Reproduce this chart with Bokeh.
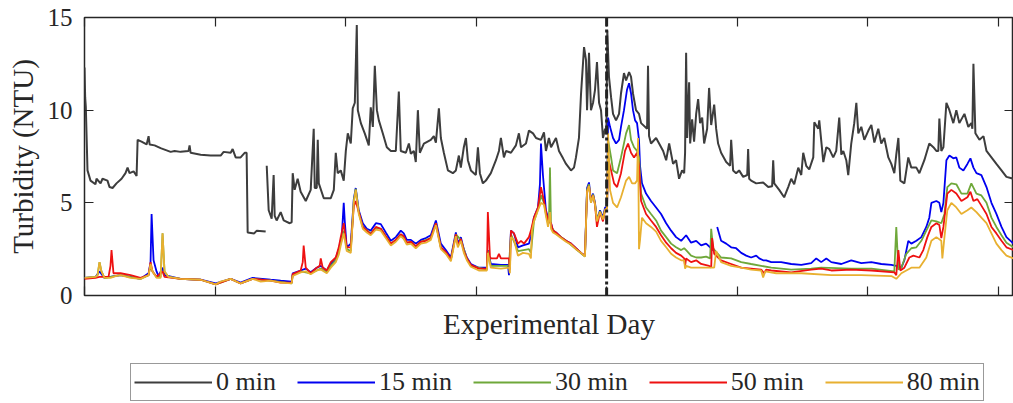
from bokeh.plotting import figure
from bokeh.layouts import column
from bokeh.models import Span, Legend, LegendItem, LinearAxis, FixedTicker, Range1d
from bokeh.embed import file_html
from bokeh.resources import INLINE

nan = float("nan")

# (experimental day, turbidity NTU) for each sampling delay
turb_0min = [
    (0.000, 12.3), (0.005, 10.7), (0.010, 10.2), (0.023, 6.75), (0.046, 6.2), (0.084, 6.0), (0.092, 6.3),
    (0.123, 6.05), (0.138, 6.3), (0.176, 6.2), (0.192, 5.85), (0.215, 5.8), (0.245, 6.05), (0.284, 6.3),
    (0.314, 6.6), (0.330, 6.9), (0.345, 6.6), (0.376, 6.7), (0.399, 6.45), (0.407, 8.4), (0.437, 8.3),
    (0.476, 8.15), (0.491, 8.6), (0.499, 8.15), (0.537, 8.1), (0.583, 7.95), (0.660, 7.75), (0.690, 7.8),
    (0.736, 7.75), (0.797, 7.8), (0.805, 8.1), (0.813, 7.7), (0.890, 7.6), (0.966, 7.55), (1.043, 7.55),
    (1.066, 7.75), (1.120, 7.7), (1.135, 7.9), (1.158, 7.45), (1.196, 7.45), (1.227, 7.7), (1.242, 7.7),
    (1.250, 3.4), (1.300, 3.35), (1.320, 3.5), (1.388, 3.45), (nan, nan),
    (1.396, 7.0), (1.411, 4.6), (1.434, 4.15), (1.449, 6.5), (1.457, 4.3), (1.472, 4.05), (1.503, 4.5),
    (1.526, 4.05), (1.572, 3.9), (1.587, 3.95), (1.595, 6.6), (1.610, 5.7), (1.633, 6.3), (1.656, 5.6),
    (1.695, 5.1), (1.733, 5.7), (1.756, 9.0), (1.764, 5.8), (1.779, 5.8), (1.787, 8.4), (1.795, 6.05),
    (1.833, 5.25), (1.887, 5.25), (1.910, 5.7), (1.925, 7.7), (1.940, 6.6), (1.963, 6.75), (1.986, 6.2),
    (2.002, 7.8), (2.017, 8.75), (2.040, 8.2), (2.055, 10.1), (2.071, 10.4), (2.086, 14.6), (2.094, 10.0),
    (2.117, 9.3), (2.147, 8.75), (2.178, 8.1), (2.193, 10.15), (2.209, 9.1), (2.224, 12.4), (2.240, 10.0),
    (2.255, 9.45), (2.285, 8.75), (2.316, 8.0), (2.347, 7.8), (2.385, 7.8), (2.408, 11.0), (2.423, 7.8),
    (2.462, 7.7), (2.485, 8.2), (2.500, 7.65), (2.523, 7.8), (2.538, 7.2), (2.554, 10.0), (2.569, 7.7),
    (2.600, 8.2), (2.653, 8.4), (2.676, 8.6), (2.692, 8.25), (2.715, 10.1), (2.730, 8.5), (2.753, 7.7),
    (2.784, 6.75), (2.822, 6.6), (2.845, 6.75), (2.868, 7.55), (2.883, 6.9), (2.906, 8.0), (2.922, 8.5),
    (2.937, 7.3), (2.960, 6.75), (2.998, 6.5), (3.014, 8.0), (3.029, 6.6), (3.052, 6.05), (3.075, 6.2),
    (3.113, 6.6), (3.152, 7.3), (3.175, 7.8), (3.190, 8.5), (3.213, 7.45), (3.229, 7.8), (3.267, 7.7),
    (3.305, 8.1), (3.328, 8.75), (3.344, 8.0), (3.382, 8.2), (3.405, 8.9), (3.436, 8.75), (3.459, 8.5),
    (3.497, 8.4), (3.520, 8.8), (3.535, 7.8), (3.558, 8.5), (3.574, 8.0), (3.612, 8.5), (3.635, 7.8),
    (3.666, 7.4), (3.689, 7.1), (3.727, 6.75), (3.750, 6.9), (3.765, 7.45), (3.788, 8.5), (3.804, 10.9),
    (3.827, 13.4), (3.842, 12.7), (3.850, 10.0), (3.865, 13.1), (3.880, 10.0), (3.896, 10.4), (3.911, 11.1),
    (3.926, 12.6), (3.942, 10.4), (3.957, 10.0), (3.972, 8.5), (3.988, 9.0), (3.998, 8.7), (4.005, 14.3),
    (4.018, 11.8), (4.034, 10.7), (4.049, 9.8), (4.072, 9.45), (4.095, 9.8), (4.110, 10.9), (4.133, 12.0),
    (4.149, 11.6), (4.172, 12.05), (4.187, 11.8), (4.202, 10.9), (4.225, 10.0), (4.248, 9.8), (4.264, 9.3),
    (4.310, 9.0), (4.317, 12.4), (4.325, 8.6), (4.340, 8.2), (4.379, 8.5), (4.402, 8.2), (4.433, 7.8),
    (4.456, 7.3), (4.479, 8.2), (4.509, 7.1), (4.532, 7.3), (4.555, 6.3), (4.578, 6.75), (4.594, 6.6),
    (4.601, 7.7), (4.609, 13.1), (4.617, 8.5), (4.632, 11.5), (4.640, 8.2), (4.655, 9.5), (4.670, 8.3),
    (4.686, 9.8), (4.701, 10.6), (4.716, 9.3), (4.732, 9.6), (4.747, 8.2), (4.770, 9.0), (4.785, 11.2),
    (4.801, 9.2), (4.824, 10.3), (4.839, 9.0), (4.854, 8.2), (4.877, 7.7), (4.916, 7.2), (4.946, 7.0),
    (4.954, 8.4), (4.969, 6.75), (4.992, 6.6), (5.015, 6.75), (5.046, 6.4), (5.077, 6.5), (5.084, 7.9),
    (5.092, 6.3), (5.107, 6.2), (5.146, 6.05), (5.199, 6.1), (5.238, 5.85), (5.268, 5.9), (5.276, 7.3),
    (5.284, 6.05), (5.322, 5.7), (5.360, 5.3), (5.391, 5.85), (5.414, 6.3), (5.437, 6.0), (5.468, 6.9),
    (5.491, 6.5), (5.506, 7.7), (5.529, 7.0), (5.552, 6.8), (5.583, 7.45), (5.591, 9.35), (5.621, 9.0),
    (5.629, 9.45), (5.660, 7.2), (5.683, 8.0), (5.706, 7.9), (5.736, 7.45), (5.759, 7.8), (5.782, 9.6),
    (5.798, 7.6), (5.813, 7.8), (5.836, 7.3), (5.851, 6.5), (5.874, 8.2), (5.897, 9.3), (5.913, 10.4),
    (5.928, 8.75), (5.951, 9.1), (5.974, 8.4), (6.005, 8.9), (6.028, 9.2), (6.051, 8.25), (6.081, 9.0),
    (6.104, 8.2), (6.127, 8.5), (6.158, 7.45), (6.181, 7.1), (6.204, 6.6), (6.219, 7.6), (6.235, 8.5),
    (6.250, 6.2), (6.281, 6.05), (6.311, 7.45), (6.334, 6.9), (6.373, 6.9), (6.396, 6.6), (6.434, 7.3),
    (6.472, 8.2), (6.503, 8.0), (6.526, 7.8), (6.541, 7.8), (6.549, 9.55), (6.564, 7.8), (6.580, 8.0),
    (6.603, 10.4), (6.626, 10.0), (6.656, 9.3), (6.679, 10.0), (6.702, 9.3), (6.741, 9.8), (6.771, 9.1),
    (6.794, 9.3), (6.802, 9.0), (6.810, 12.5), (6.825, 8.75), (6.856, 8.4), (6.887, 8.6), (6.910, 7.8),
    (6.948, 7.45), (6.986, 7.1), (7.025, 6.75), (7.063, 6.4), (7.117, 6.3),
]

turb_15min = [
    (0.000, 0.95), (0.084, 1.0), (0.115, 1.3), (0.153, 0.95), (0.276, 1.1), (0.429, 0.9), (0.491, 1.2),
    (0.506, 1.8), (0.514, 4.4), (0.529, 1.9), (0.552, 1.3), (0.567, 1.05), (0.598, 1.5), (0.613, 1.1),
    (0.736, 0.9), (0.890, 0.85), (1.005, 0.65), (1.120, 0.9), (1.196, 0.7), (1.288, 0.95), (1.426, 0.85),
    (1.503, 0.8), (1.587, 0.75), (1.595, 1.2), (1.656, 1.35), (1.695, 1.45), (1.733, 1.25), (1.779, 1.5),
    (1.810, 1.6), (1.856, 1.35), (1.887, 1.7), (1.925, 2.0), (1.948, 2.5), (1.971, 3.2), (1.986, 5.0),
    (1.994, 4.0), (2.009, 2.6), (2.040, 2.8), (2.063, 5.2), (2.078, 5.8), (2.101, 4.6), (2.132, 3.9),
    (2.163, 3.6), (2.193, 3.5), (2.232, 3.9), (2.270, 3.85), (2.308, 3.4), (2.347, 2.95), (2.385, 3.15),
    (2.423, 3.5), (2.446, 3.35), (2.469, 3.0), (2.500, 3.0), (2.538, 2.8), (2.577, 3.0), (2.615, 3.1),
    (2.653, 3.25), (2.692, 4.05), (2.730, 2.8), (2.768, 2.45), (2.807, 2.05), (2.845, 3.4), (2.860, 2.8),
    (2.883, 3.15), (2.906, 2.5), (2.929, 2.05), (2.960, 1.7), (3.021, 1.5), (3.083, 1.5), (3.090, 2.45),
    (3.113, 1.7), (3.190, 1.65), (3.244, 1.65), (3.252, 1.1), (3.267, 3.5), (3.290, 3.35), (3.321, 2.6),
    (3.359, 2.7), (3.405, 2.8), (3.420, 3.2), (3.443, 4.2), (3.474, 4.75), (3.489, 6.0), (3.497, 8.2),
    (3.512, 6.5), (3.535, 4.6), (3.551, 4.2), (3.574, 3.9), (3.589, 3.5), (3.612, 3.4), (3.650, 3.15),
    (3.689, 2.95), (3.727, 2.8), (3.765, 2.55), (3.804, 2.3), (3.834, 2.15), (3.850, 5.8), (3.865, 6.1),
    (3.880, 5.1), (3.896, 5.5), (3.911, 5.0), (3.926, 4.05), (3.949, 4.6), (3.972, 4.2), (3.988, 4.75),
    (4.003, 4.8), (4.011, 9.6), (4.026, 9.1), (4.049, 8.5), (4.072, 8.2), (4.095, 8.4), (4.110, 9.1),
    (4.133, 10.0), (4.156, 11.1), (4.172, 11.45), (4.187, 10.9), (4.202, 10.0), (4.218, 9.45), (4.233, 9.3),
    (4.248, 8.4), (4.256, 7.0), (4.271, 6.05), (4.302, 5.5), (4.340, 5.1), (4.379, 4.75), (4.417, 4.4),
    (4.456, 3.9), (4.494, 3.5), (4.532, 3.15), (4.571, 2.95), (4.609, 3.25), (4.647, 2.85), (4.686, 2.95),
    (4.724, 2.7), (4.762, 2.8), (4.801, 2.55), (4.824, 2.4), (nan, nan),
    (4.847, 3.7), (4.877, 2.95), (4.916, 2.8), (4.954, 2.6), (4.992, 2.55), (5.031, 2.3), (5.069, 2.15),
    (5.107, 2.05), (5.146, 2.15), (5.169, 2.0), (5.199, 1.9), (5.222, 1.9), (5.261, 1.8), (5.337, 1.8),
    (5.414, 1.7), (5.491, 1.65), (5.567, 1.75), (5.606, 2.0), (5.644, 1.8), (5.683, 2.0), (5.721, 1.8),
    (5.798, 1.7), (5.874, 1.9), (5.951, 1.75), (6.028, 1.8), (6.104, 1.7), (6.181, 1.65), (6.219, 1.6),
    (6.258, 1.5), (6.281, 1.9), (6.311, 2.95), (6.334, 2.8), (6.373, 2.95), (6.411, 3.15), (6.449, 3.7),
    (6.472, 4.2), (6.488, 5.0), (6.526, 5.1), (6.549, 5.0), (6.564, 4.5), (6.580, 5.0), (6.603, 7.3),
    (6.626, 7.55), (6.656, 7.4), (6.679, 7.45), (6.702, 6.9), (6.733, 6.75), (6.764, 7.1), (6.787, 7.4),
    (6.810, 6.9), (6.833, 6.6), (6.871, 6.5), (6.910, 5.85), (6.948, 5.0), (6.986, 4.4), (7.025, 3.7),
    (7.063, 3.15), (7.117, 2.8),
]

turb_30min = [
    (0.000, 0.95), (0.084, 1.0), (0.100, 1.1), (0.115, 1.8), (0.130, 1.3), (0.153, 0.95), (0.276, 1.1),
    (0.429, 0.9), (0.491, 1.1), (0.506, 1.6), (0.521, 1.3), (0.552, 1.0), (0.583, 1.0), (0.598, 3.35),
    (0.613, 1.3), (0.644, 1.0), (0.736, 0.9), (0.890, 0.85), (1.005, 0.6), (1.120, 0.9), (1.196, 0.65),
    (1.288, 0.9), (1.426, 0.8), (1.587, 0.65), (1.595, 1.1), (1.656, 1.3), (1.733, 1.2), (1.810, 1.45),
    (1.856, 1.25), (1.887, 1.6), (1.925, 1.9), (1.963, 2.8), (1.986, 3.5), (2.009, 2.5), (2.040, 2.4),
    (2.063, 5.1), (2.078, 5.75), (2.101, 4.5), (2.132, 3.7), (2.193, 3.35), (2.232, 3.65), (2.270, 3.6),
    (2.308, 3.2), (2.347, 2.8), (2.385, 3.0), (2.423, 3.3), (2.469, 2.85), (2.500, 2.9), (2.538, 2.65),
    (2.577, 2.9), (2.653, 3.1), (2.692, 3.9), (2.730, 2.6), (2.807, 1.95), (2.845, 3.3), (2.883, 3.0),
    (2.929, 2.0), (2.960, 1.6), (3.083, 1.4), (3.090, 2.4), (3.113, 1.6), (3.252, 1.6), (3.267, 3.3),
    (3.321, 2.4), (3.405, 2.5), (3.420, 2.3), (3.443, 4.0), (3.474, 4.65), (3.497, 5.4), (3.520, 5.0),
    (3.535, 4.4), (3.551, 3.9), (3.558, 3.9), (3.566, 6.9), (3.574, 3.7), (3.612, 3.35), (3.689, 2.95),
    (3.765, 2.5), (3.834, 2.1), (3.850, 5.7), (3.865, 6.0), (3.880, 5.0), (3.896, 5.45), (3.911, 4.95),
    (3.926, 4.0), (3.949, 4.55), (3.972, 4.1), (3.988, 4.65), (4.003, 4.7), (4.011, 8.4), (4.034, 7.45),
    (4.049, 6.75), (4.080, 6.6), (4.110, 7.45), (4.149, 8.75), (4.172, 9.2), (4.187, 8.4), (4.210, 8.0),
    (4.233, 7.8), (4.248, 7.45), (4.264, 5.5), (4.302, 4.75), (4.340, 4.4), (4.379, 4.05), (4.417, 3.5),
    (4.456, 3.15), (4.494, 2.8), (4.532, 2.6), (4.571, 2.45), (4.594, 2.55), (4.609, 2.45), (4.647, 2.15),
    (4.686, 2.05), (4.724, 2.05), (4.762, 2.1), (4.793, 2.0), (4.801, 3.6), (4.816, 2.55), (4.839, 2.35),
    (4.877, 2.05), (4.954, 2.0), (5.031, 1.8), (5.107, 1.7), (5.184, 1.6), (5.261, 1.5), (5.414, 1.4),
    (5.567, 1.45), (5.644, 1.5), (5.874, 1.45), (6.028, 1.45), (6.204, 1.3), (6.219, 3.7), (6.235, 1.4),
    (6.258, 1.5), (6.296, 2.25), (6.334, 2.55), (6.373, 2.6), (6.411, 2.95), (6.449, 3.5), (6.488, 4.05),
    (6.526, 4.0), (6.564, 3.9), (6.588, 4.4), (6.610, 5.85), (6.641, 6.05), (6.679, 6.0), (6.718, 5.5),
    (6.764, 5.5), (6.794, 6.05), (6.833, 5.5), (6.871, 5.4), (6.910, 5.0), (6.948, 4.2), (6.986, 3.7),
    (7.025, 3.25), (7.063, 2.85), (7.117, 2.6),
]

turb_50min = [
    (0.000, 0.9), (0.084, 0.95), (0.115, 1.0), (0.184, 1.0), (0.199, 1.6), (0.207, 2.45), (0.222, 1.2),
    (0.276, 1.2), (0.353, 1.1), (0.429, 0.95), (0.491, 1.1), (0.506, 1.8), (0.521, 1.3), (0.552, 1.0),
    (0.598, 1.3), (0.613, 1.0), (0.736, 0.9), (0.890, 0.85), (1.005, 0.6), (1.120, 0.9), (1.196, 0.65),
    (1.288, 0.9), (1.426, 0.8), (1.503, 0.7), (1.587, 0.7), (1.595, 1.15), (1.656, 1.35), (1.672, 1.8),
    (1.679, 2.7), (1.695, 1.5), (1.733, 1.2), (1.779, 1.5), (1.802, 1.6), (1.810, 2.0), (1.825, 1.5),
    (1.856, 1.35), (1.887, 1.8), (1.925, 2.05), (1.948, 2.6), (1.963, 3.15), (1.986, 3.9), (2.009, 2.6),
    (2.040, 2.6), (2.063, 4.8), (2.078, 5.1), (2.101, 4.5), (2.132, 3.7), (2.163, 3.5), (2.193, 3.3),
    (2.232, 3.7), (2.270, 3.6), (2.308, 3.2), (2.347, 2.8), (2.385, 3.0), (2.423, 3.3), (2.446, 3.2),
    (2.469, 2.85), (2.500, 2.9), (2.538, 2.65), (2.577, 2.9), (2.615, 2.95), (2.653, 3.1), (2.692, 3.9),
    (2.730, 2.6), (2.768, 2.35), (2.807, 1.95), (2.845, 3.3), (2.860, 2.7), (2.883, 3.05), (2.906, 2.4),
    (2.929, 2.0), (2.960, 1.65), (3.021, 1.45), (3.083, 1.45), (3.090, 4.5), (3.106, 2.1), (3.113, 2.0),
    (3.160, 2.0), (3.175, 2.25), (3.190, 2.0), (3.252, 2.0), (3.259, 1.4), (3.267, 3.5), (3.290, 3.35),
    (3.321, 2.8), (3.344, 2.95), (3.367, 2.8), (3.405, 3.15), (3.420, 3.5), (3.443, 4.2), (3.474, 4.75),
    (3.497, 5.85), (3.520, 5.1), (3.535, 4.5), (3.551, 4.1), (3.574, 3.9), (3.589, 3.5), (3.612, 3.4),
    (3.650, 3.15), (3.689, 2.95), (3.727, 2.8), (3.765, 2.55), (3.804, 2.3), (3.834, 2.15), (3.850, 5.6),
    (3.865, 5.9), (3.880, 5.1), (3.896, 5.4), (3.911, 4.9), (3.926, 3.7), (3.949, 4.5), (3.972, 4.0),
    (3.988, 4.6), (4.003, 4.7), (4.011, 7.45), (4.034, 6.75), (4.057, 6.05), (4.080, 5.85), (4.110, 6.6),
    (4.141, 7.8), (4.164, 8.2), (4.187, 7.7), (4.210, 7.45), (4.233, 7.7), (4.248, 7.0), (4.264, 5.1),
    (4.302, 4.4), (4.340, 4.05), (4.379, 3.7), (4.417, 3.25), (4.456, 2.85), (4.494, 2.55), (4.532, 2.3),
    (4.571, 2.15), (4.594, 2.0), (4.601, 1.6), (4.609, 2.0), (4.647, 1.8), (4.686, 1.9), (4.724, 1.7),
    (4.785, 1.6), (4.801, 1.5), (4.808, 3.1), (4.824, 2.25), (4.877, 1.9), (4.954, 1.7), (5.031, 1.5),
    (5.107, 1.45), (5.184, 1.4), (5.207, 1.2), (5.222, 1.4), (5.261, 1.35), (5.414, 1.25), (5.567, 1.4),
    (5.644, 1.45), (5.721, 1.35), (5.874, 1.4), (6.028, 1.35), (6.204, 1.25), (6.219, 1.1), (6.235, 2.45),
    (6.250, 1.35), (6.281, 1.5), (6.319, 2.05), (6.350, 2.15), (6.396, 2.05), (6.426, 2.45), (6.457, 3.15),
    (6.488, 3.7), (6.526, 3.9), (6.549, 3.8), (6.564, 3.1), (6.580, 3.7), (6.610, 5.5), (6.641, 5.7),
    (6.679, 5.5), (6.718, 5.1), (6.764, 5.3), (6.787, 5.6), (6.810, 5.1), (6.840, 5.2), (6.871, 4.85),
    (6.910, 4.4), (6.948, 3.7), (6.986, 3.35), (7.025, 2.95), (7.063, 2.6), (7.117, 2.45),
]

turb_80min = [
    (0.000, 0.95), (0.084, 1.0), (0.100, 1.1), (0.115, 1.8), (0.130, 1.3), (0.153, 0.95), (0.199, 0.95),
    (0.238, 1.05), (0.276, 1.1), (0.353, 0.95), (0.429, 0.9), (0.491, 1.1), (0.506, 1.7), (0.521, 1.3),
    (0.552, 0.95), (0.583, 0.95), (0.598, 3.35), (0.613, 1.3), (0.644, 1.0), (0.736, 0.9), (0.890, 0.85),
    (1.005, 0.6), (1.043, 0.75), (1.120, 0.9), (1.196, 0.65), (1.288, 0.9), (1.350, 0.75), (1.426, 0.8),
    (1.503, 0.7), (1.587, 0.65), (1.595, 1.05), (1.656, 1.25), (1.695, 1.3), (1.733, 1.15), (1.779, 1.35),
    (1.810, 1.4), (1.856, 1.2), (1.887, 1.5), (1.925, 1.8), (1.948, 2.2), (1.963, 2.7), (1.986, 3.35),
    (2.009, 2.4), (2.040, 2.3), (2.063, 5.0), (2.078, 5.7), (2.101, 4.4), (2.132, 3.6), (2.163, 3.4),
    (2.193, 3.25), (2.232, 3.55), (2.270, 3.5), (2.308, 3.1), (2.347, 2.7), (2.385, 2.9), (2.423, 3.2),
    (2.446, 3.05), (2.469, 2.75), (2.500, 2.8), (2.538, 2.55), (2.577, 2.8), (2.615, 2.85), (2.653, 3.0),
    (2.692, 3.8), (2.730, 2.5), (2.768, 2.25), (2.807, 1.85), (2.845, 3.2), (2.860, 2.6), (2.883, 2.95),
    (2.906, 2.3), (2.929, 1.9), (2.960, 1.55), (3.021, 1.35), (3.083, 1.35), (3.090, 2.3), (3.113, 1.5),
    (3.190, 1.45), (3.252, 1.5), (3.259, 1.2), (3.267, 3.15), (3.290, 3.0), (3.321, 2.15), (3.359, 2.3),
    (3.405, 2.25), (3.420, 2.0), (3.428, 3.5), (3.443, 4.0), (3.474, 4.6), (3.497, 5.0), (3.520, 4.9),
    (3.535, 4.3), (3.551, 3.7), (3.566, 4.5), (3.574, 3.6), (3.589, 3.4), (3.612, 3.3), (3.650, 3.1),
    (3.689, 2.9), (3.727, 2.75), (3.765, 2.5), (3.804, 2.3), (3.834, 2.1), (3.850, 5.6), (3.865, 5.9),
    (3.880, 5.0), (3.896, 5.4), (3.911, 4.9), (3.926, 4.0), (3.949, 4.5), (3.972, 4.1), (3.988, 4.6),
    (4.003, 4.7), (4.011, 8.75), (4.026, 5.7), (4.049, 5.0), (4.080, 4.75), (4.110, 5.3), (4.149, 6.2),
    (4.172, 6.4), (4.195, 6.05), (4.218, 6.05), (4.233, 6.2), (4.241, 8.5), (4.248, 2.5), (4.256, 3.0),
    (4.271, 4.2), (4.302, 3.9), (4.340, 3.7), (4.379, 3.45), (4.417, 2.95), (4.456, 2.6), (4.494, 2.25),
    (4.532, 2.05), (4.571, 1.9), (4.594, 1.9), (4.601, 1.45), (4.609, 1.6), (4.647, 1.5), (4.724, 1.5),
    (4.801, 1.5), (4.824, 1.5), (4.839, 2.4), (4.877, 1.8), (4.954, 1.6), (5.031, 1.5), (5.107, 1.4),
    (5.184, 1.35), (5.199, 0.97), (5.215, 1.3), (5.299, 1.2), (5.491, 1.2), (5.721, 1.1), (5.951, 1.1),
    (6.181, 1.05), (6.219, 0.9), (6.258, 1.2), (6.296, 1.35), (6.334, 1.5), (6.396, 1.5), (6.449, 2.05),
    (6.488, 2.95), (6.526, 3.15), (6.564, 2.95), (6.572, 2.0), (6.588, 3.15), (6.610, 4.6), (6.641, 5.0),
    (6.679, 4.75), (6.718, 4.4), (6.764, 4.6), (6.794, 4.75), (6.833, 4.5), (6.871, 4.2), (6.910, 3.9),
    (6.948, 3.35), (6.986, 2.8), (7.025, 2.45), (7.063, 2.15), (7.117, 2.0),
]

series_labels = ["0 min", "15 min", "30 min", "50 min", "80 min"]
series_colors = ["#3d3d3d", "#0000f0", "#6fa83a", "#ee1111", "#e8b030"]
day_ticks = [0, 1, 2, 3, 4, 5, 6, 7]
ntu_ticks = [0, 5, 10, 15]
event_day = 4.0

FONT = "Liberation Serif"
DARK = "#262626"

p = figure(width=1013, height=347, output_backend="svg", toolbar_location=None,
           x_range=Range1d(0, 7.117), y_range=Range1d(0, 15),
           min_border_left=84, min_border_right=0, min_border_top=17, min_border_bottom=52)
p.xgrid.visible = False
p.ygrid.visible = False
p.outline_line_color = DARK
p.outline_line_width = 1.5
p.background_fill_color = "white"
p.border_fill_color = "white"


def style_axis(ax, ticks, show_labels):
    ax.ticker = FixedTicker(ticks=ticks)
    ax.axis_line_color = None
    ax.major_tick_in = 9
    ax.major_tick_out = 0
    ax.minor_tick_line_color = None
    ax.major_tick_line_color = DARK
    ax.major_tick_line_width = 1.2
    if not show_labels:
        ax.major_label_overrides = {t: "" for t in ticks}
        ax.major_label_standoff = 0
        ax.major_label_text_font_size = "8px"


# bottom x axis (ticks without labels)
xa = p.xaxis[0]
style_axis(xa, day_ticks, False)
xa.axis_label = "Experimental Day"
xa.axis_label_text_font = FONT
xa.axis_label_text_font_size = "29px"
xa.axis_label_text_font_style = "normal"
xa.axis_label_text_color = DARK
xa.axis_label_standoff = 12

# left y axis
ya = p.yaxis[0]
style_axis(ya, ntu_ticks, True)
ya.major_label_text_font = FONT
ya.major_label_text_font_size = "25px"
ya.major_label_text_color = DARK
ya.major_label_standoff = 12
ya.axis_label = "Turbidity (NTU)"
ya.axis_label_text_font = FONT
ya.axis_label_text_font_size = "29px"
ya.axis_label_text_font_style = "normal"
ya.axis_label_text_color = DARK
ya.axis_label_standoff = 6

top = LinearAxis()
style_axis(top, day_ticks, False)
p.add_layout(top, "above")
right = LinearAxis()
style_axis(right, ntu_ticks, False)
p.add_layout(right, "right")

all_series = [turb_0min, turb_15min, turb_30min, turb_50min, turb_80min]
for data, color, lab in zip(all_series, series_colors, series_labels):
    xs = [d for d, _ in data]
    ys = [v for _, v in data]
    lw = 2.0 if lab == "0 min" else 1.8
    p.line(xs, ys, line_color=color, line_width=lw)

p.add_layout(Span(location=event_day, dimension="height", line_color="#222222",
                  line_width=3, line_dash="9 3 3 3"))

# legend strip below the chart (its frame is aligned with the chart frame by the column layout)
lg = figure(width=1013, height=56, output_backend="svg", toolbar_location=None,
            x_axis_type=None, y_axis_type=None, x_range=Range1d(0, 1), y_range=Range1d(0, 1),
            min_border=0)
lg.xgrid.visible = False
lg.ygrid.visible = False
lg.outline_line_color = None
lg.background_fill_color = "white"
lg.border_fill_color = "white"
items = []
for color, lab in zip(series_colors, series_labels):
    lw = 2.0 if lab == "0 min" else 1.8
    # sample glyph kept outside the visible range: only its legend swatch shows
    r = lg.line([-2, -1], [-2, -1], line_color=color, line_width=lw)
    items.append(LegendItem(label=lab, renderers=[r]))

legend = Legend(items=items, location=(46, 2), orientation="horizontal",
                label_text_font=FONT, label_text_font_size="26px", label_text_color=DARK,
                glyph_width=78, glyph_height=20, label_standoff=4, spacing=21, padding=3,
                margin=0, border_line_color="#333333", border_line_width=1.5,
                background_fill_alpha=1.0)
lg.add_layout(legend)

layout = column(p, lg, spacing=0)
open("out.html", "w").write(file_html(layout, INLINE))
